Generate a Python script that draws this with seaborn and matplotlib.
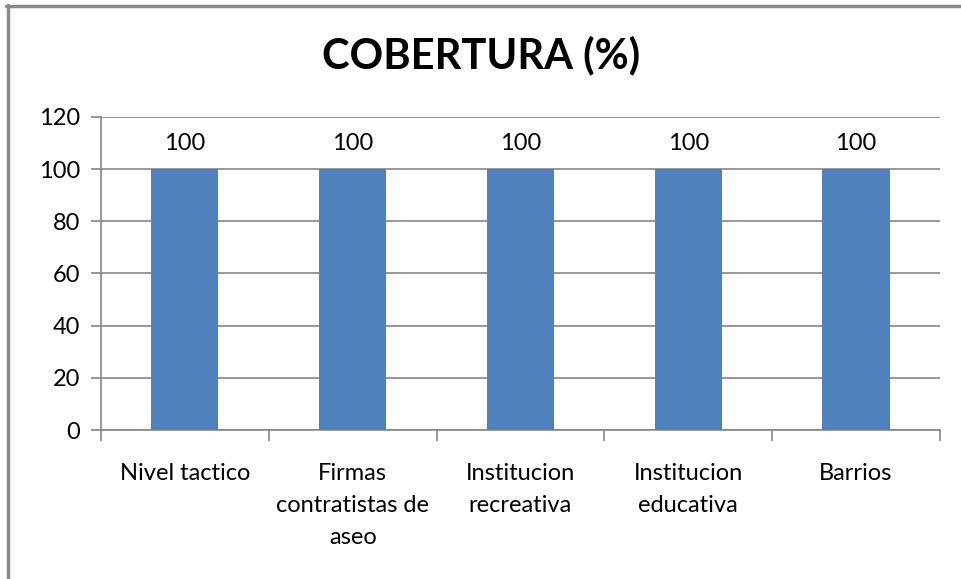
import matplotlib
matplotlib.use("Agg")
import matplotlib.pyplot as plt
import matplotlib.lines as mlines
import seaborn as sns
import pandas as pd

categorias = ["Nivel tactico", "Firmas\ncontratistas de\naseo", "Institucion\nrecreativa",
              "Institucion\neducativa", "Barrios"]
cobertura = [100, 100, 100, 100, 100]
y_ticks = [0, 20, 40, 60, 80, 100, 120]

df = pd.DataFrame({"categoria": categorias, "cobertura": cobertura})

sns.set_style("white")
plt.rcParams["font.family"] = ["Lato", "DejaVu Sans"]
plt.rcParams["text.color"] = "black"
plt.rcParams["xtick.color"] = "black"
plt.rcParams["ytick.color"] = "black"

gris = "#868686"
fig = plt.figure(figsize=(9.62, 5.79), dpi=100)
ax = fig.add_axes([0.105, 0.2573, 0.872, 0.5407])

sns.barplot(data=df, x="categoria", y="cobertura", color="#4F81BD", width=0.4,
            saturation=1, linewidth=0, ax=ax, zorder=3)

ax.set_ylim(0, 120)
ax.set_yticks(y_ticks)
ax.set_xlim(-0.5, len(categorias) - 0.5)
ax.yaxis.grid(True, color=gris, linewidth=1.2, zorder=0)
ax.set_axisbelow(True)

for s in ["top", "right"]:
    ax.spines[s].set_visible(False)
for s in ["left", "bottom"]:
    ax.spines[s].set_color(gris)
    ax.spines[s].set_linewidth(1.2)

ax.tick_params(axis="y", length=7, width=1.2, color=gris, labelcolor="black",
               labelsize=17, pad=8, left=True)
ax.tick_params(axis="x", which="major", length=0, labelsize=17, labelcolor="black", pad=24)
ax.set_xticks([i - 0.5 for i in range(len(categorias) + 1)], minor=True)
ax.tick_params(axis="x", which="minor", length=8, width=1.2, color=gris, bottom=True)
for lbl in ax.get_xticklabels():
    lbl.set_linespacing(1.65)
    lbl.set_verticalalignment("top")

ax.set_xlabel("")
ax.set_ylabel("")

for cont in ax.containers:
    ax.bar_label(cont, labels=[str(v) for v in cobertura], padding=11, fontsize=17)

fig.text(0.5, 0.905, "COBERTURA (%)", ha="center", va="center", fontsize=30,
         fontweight="bold", color="black")

# borde superior e izquierdo del marco
borde = "#8a8a8a"
fig.add_artist(mlines.Line2D([0.0065, 1.0], [0.9905, 0.9905], transform=fig.transFigure,
                             color=borde, linewidth=2.5))
fig.add_artist(mlines.Line2D([0.0078, 0.0078], [0.0, 0.992], transform=fig.transFigure,
                             color=borde, linewidth=2.5))

fig.savefig("out.png", dpi=100)
